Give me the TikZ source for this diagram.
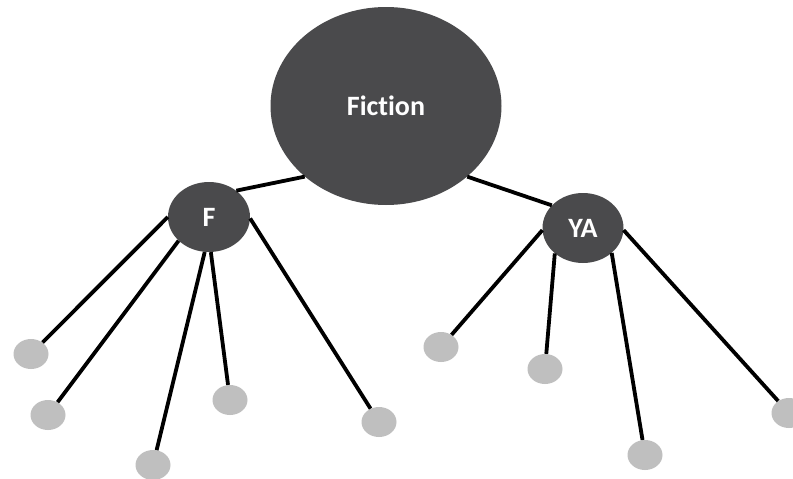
\documentclass[tikz,border=0pt]{standalone}
\usepackage{fontspec}
\setmainfont[Ligatures=NoCommon]{Carlito}
\usetikzlibrary{shapes.geometric}
\definecolor{hub}{HTML}{4A4A4C}
\definecolor{leafgray}{HTML}{BFBFBF}
\begin{document}
\begin{tikzpicture}[x=1pt,y=-1pt,
  hubnode/.style={ellipse, fill=hub, text=white, inner sep=0pt, font=\fontsize{28}{31}\selectfont\bfseries},
  leafnode/.style={ellipse, fill=leafgray, minimum width=35pt, minimum height=30pt, inner sep=0pt},
  link/.style={line width=3.8pt, black}]
\useasboundingbox (0,0) rectangle (793,479);
\fill[white] (0,0) rectangle (793,479);
% nodes
\node[hubnode, minimum width=231pt, minimum height=198pt] (fic) at (386,106) {Fiction};
\node[hubnode, minimum width=82pt, minimum height=70pt] (f) at (209,217) {F};
\node[hubnode, minimum width=81pt, minimum height=70pt] (ya) at (583,228) {YA};
\node[leafnode] (l1) at (31,354) {};
\node[leafnode] (l2) at (48,415) {};
\node[leafnode] (l3) at (153,465) {};
\node[leafnode] (l4) at (230,400) {};
\node[leafnode] (l5) at (379,422) {};
\node[leafnode] (l6) at (441,347) {};
\node[leafnode] (l7) at (545,369) {};
\node[leafnode] (l8) at (645,455) {};
\node[leafnode] (l9) at (789,413) {};
% connectors
\draw[link] (fic.221) -- (f.44);
\draw[link] (fic.319) -- (ya.144);
\draw[link] (f.180) -- (l1);
\draw[link] (f.218) -- (l2);
\draw[link] (f.263) -- (l3);
\draw[link] (f.273) -- (l4);
\draw[link] (f.358) -- (l5);
\draw[link] (ya.183) -- (l6);
\draw[link] (ya.222) -- (l7);
\draw[link] (ya.319) -- (l8);
\draw[link] (ya.357) -- (l9);
\end{tikzpicture}
\end{document}
